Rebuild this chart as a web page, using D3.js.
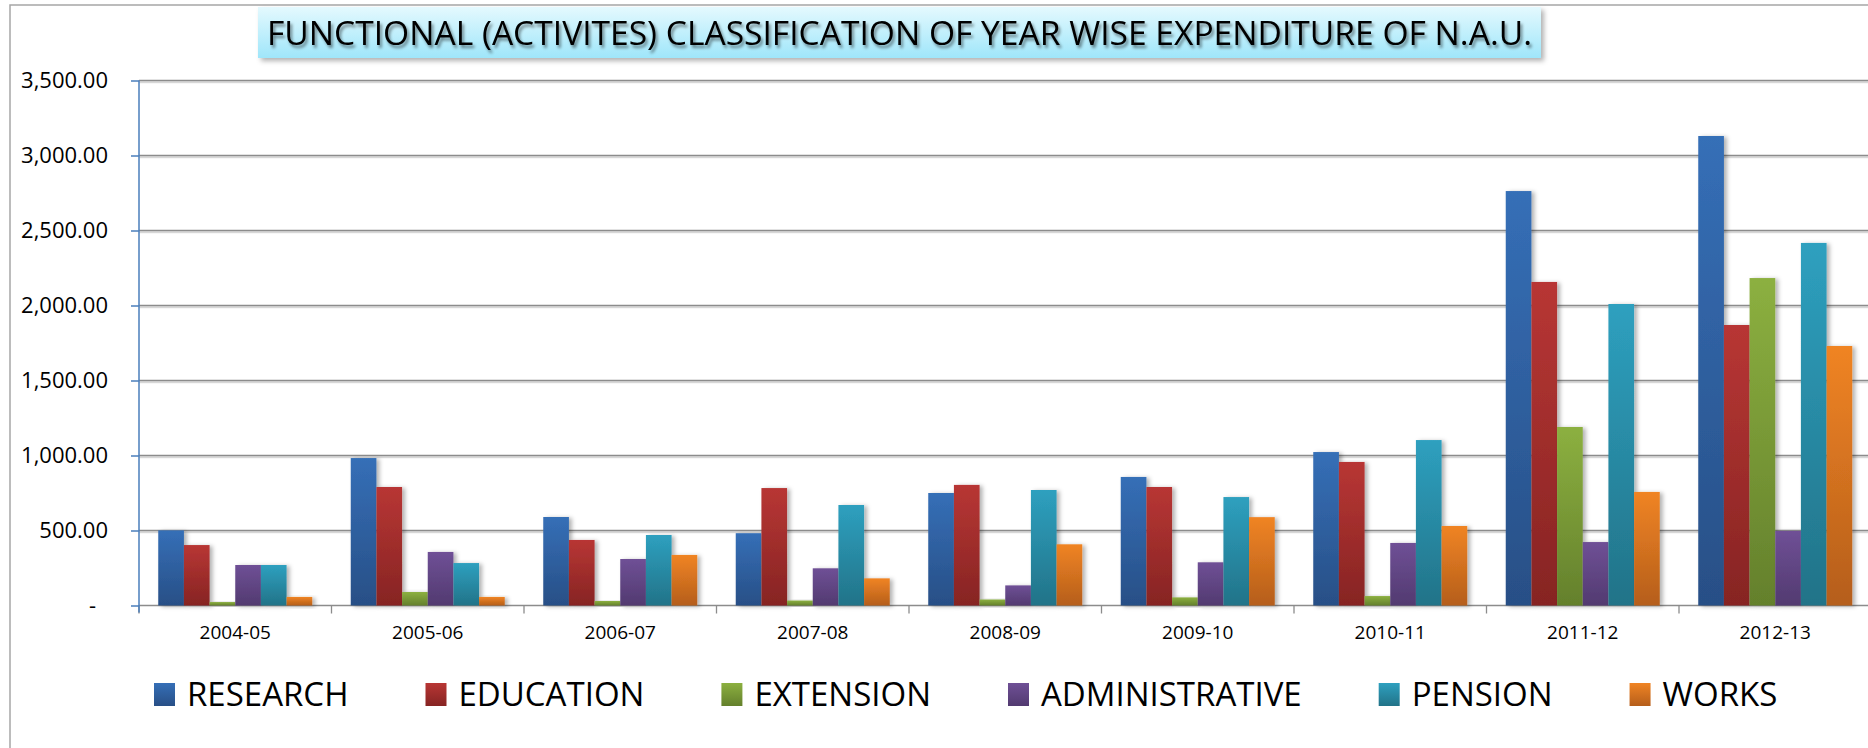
<!DOCTYPE html>
<html>
<head>
<meta charset="utf-8">
<script src="https://cdn.jsdelivr.net/npm/d3@7"></script>
<style>
  body { margin: 0; background: #fff; }
  text { font-family: "Open Sans", "Noto Sans", sans-serif; }
</style>
</head>
<body>
<div id="vis"></div>
<script>
// data
const CATEGORIES = ["2004-05", "2005-06", "2006-07", "2007-08", "2008-09", "2009-10", "2010-11", "2011-12", "2012-13"];
const RESEARCH = [501, 983, 590, 482, 750, 857, 1023, 2763, 3130];
const EDUCATION = [403, 790, 437, 783, 804, 790, 957, 2157, 1870];
const EXTENSION = [23, 90, 30, 33, 40, 54, 63, 1190, 2183];
const ADMINISTRATIVE = [270, 357, 310, 248, 134, 288, 417, 423, 497];
const PENSION = [270, 283, 470, 670, 770, 723, 1103, 2010, 2417];
const WORKS = [57, 57, 337, 181, 408, 589, 530, 757, 1730];
const SERIES_NAMES = ["RESEARCH", "EDUCATION", "EXTENSION", "ADMINISTRATIVE", "PENSION", "WORKS"];
const Y_TICKS = [0, 500, 1000, 1500, 2000, 2500, 3000, 3500];
const TITLE = "FUNCTIONAL (ACTIVITES) CLASSIFICATION OF YEAR WISE EXPENDITURE OF N.A.U.";

const SERIES_VALUES = [RESEARCH, EDUCATION, EXTENSION, ADMINISTRATIVE, PENSION, WORKS];
// top / bottom gradient colours per series
const COLORS = [
  ["#356fb7", "#284f86"],
  ["#b83634", "#862423"],
  ["#8cb040", "#64802c"],
  ["#6f5096", "#523a70"],
  ["#2ea0bf", "#227388"],
  ["#f08424", "#b55e1b"]
];

// frame
const FRAME_WIDTH = 1868;
const FRAME_HEIGHT = 748;
const PLOT = {left: 139, top: 80.5, bottom: 605.5, step: 192.5};

const FRAME = d3.select("#vis")
  .append("svg")
    .attr("width", FRAME_WIDTH)
    .attr("height", FRAME_HEIGHT)
    .style("display", "block");

const defs = FRAME.append("defs");

COLORS.forEach((c, i) => {
  const g = defs.append("linearGradient")
      .attr("id", "grad" + i)
      .attr("x1", 0).attr("y1", 0).attr("x2", 0).attr("y2", 1);
  g.append("stop").attr("offset", "0%").attr("stop-color", c[0]);
  g.append("stop").attr("offset", "100%").attr("stop-color", c[1]);
});

const titleGrad = defs.append("linearGradient")
    .attr("id", "titleGrad")
    .attr("x1", 0).attr("y1", 0).attr("x2", 0).attr("y2", 1);
titleGrad.append("stop").attr("offset", "0%").attr("stop-color", "#e4f9fe");
titleGrad.append("stop").attr("offset", "100%").attr("stop-color", "#9fe6fa");

function shadow(id, dx, dy, sd, op) {
  defs.append("filter")
      .attr("id", id)
      .attr("x", "-20%").attr("y", "-20%")
      .attr("width", "150%").attr("height", "150%")
    .append("feDropShadow")
      .attr("dx", dx).attr("dy", dy)
      .attr("stdDeviation", sd)
      .attr("flood-color", "#000")
      .attr("flood-opacity", op);
}
shadow("barShadow", 3, 1, 2, 0.3);
shadow("boxShadow", 3, 3, 2.5, 0.3);
shadow("textShadow", 2, 3, 1.5, 0.45);
shadow("lineShadow", 0, 1.5, 0.6, 0.25);

// chart border
FRAME.append("path")
    .attr("d", "M10," + FRAME_HEIGHT + " L10,5 L" + FRAME_WIDTH + ",5")
    .attr("fill", "none")
    .attr("stroke", "#a6a6a6")
    .attr("stroke-width", 1.5);

// scales
const X = d3.scaleBand()
    .domain(CATEGORIES)
    .range([PLOT.left, PLOT.left + PLOT.step * CATEGORIES.length]);

const XS = d3.scaleBand()
    .domain(SERIES_NAMES)
    .range([0, X.bandwidth()])
    .paddingInner(0)
    .paddingOuter(0.75);

const Y = d3.scaleLinear()
    .domain([0, 3500])
    .range([PLOT.bottom, PLOT.top]);

// gridlines
FRAME.append("g")
    .attr("filter", "url(#lineShadow)")
  .selectAll("line")
  .data(Y_TICKS.slice(1))
  .enter()
  .append("line")
    .attr("x1", PLOT.left)
    .attr("x2", FRAME_WIDTH)
    .attr("y1", (d) => Y(d))
    .attr("y2", (d) => Y(d))
    .attr("stroke", "#8c8c8c")
    .attr("stroke-width", 1.6);

// x axis line
FRAME.append("line")
    .attr("x1", PLOT.left)
    .attr("x2", FRAME_WIDTH)
    .attr("y1", Y(0))
    .attr("y2", Y(0))
    .attr("stroke", "#8c8c8c")
    .attr("stroke-width", 1.6);

// category boundary ticks
FRAME.append("g")
  .selectAll("line")
  .data(CATEGORIES)
  .enter()
  .append("line")
    .attr("x1", (d) => X(d))
    .attr("x2", (d) => X(d))
    .attr("y1", Y(0))
    .attr("y2", Y(0) + 8)
    .attr("stroke", "#8c8c8c")
    .attr("stroke-width", 1.3);

// bars
const groups = FRAME.append("g")
  .selectAll("g")
  .data(CATEGORIES)
  .enter()
  .append("g")
    .attr("transform", (d) => "translate(" + X(d) + ",0)");

groups.selectAll("rect")
  .data((d, i) => SERIES_NAMES.map((s, j) => ({series: s, idx: j, value: SERIES_VALUES[j][i]})))
  .enter()
  .append("rect")
    .attr("x", (d) => XS(d.series))
    .attr("y", (d) => Y(d.value))
    .attr("width", XS.bandwidth())
    .attr("height", (d) => Y(0) - Y(d.value))
    .attr("fill", (d) => "url(#grad" + d.idx + ")")
    .attr("filter", "url(#barShadow)");

// y axis
const yAxis = FRAME.append("g")
    .attr("transform", "translate(" + PLOT.left + ",0)")
    .call(d3.axisLeft(Y)
      .tickValues(Y_TICKS)
      .tickSize(8)
      .tickPadding(23)
      .tickFormat((d) => d === 0 ? "-" : d3.format(",.2f")(d)));
yAxis.select(".domain")
    .attr("d", "M0," + (Y(0) + 7) + "V" + Y(3500))
    .attr("stroke", "#4a7ebb")
    .attr("stroke-width", 1.5);
yAxis.selectAll(".tick line")
    .attr("stroke", "#4a7ebb")
    .attr("stroke-width", 1.5);
yAxis.selectAll(".tick text")
    .attr("font-size", "22px")
    .attr("fill", "#000")
    .attr("dx", (d) => d === 0 ? -12 : 0);

// x labels
const xAxis = FRAME.append("g")
    .attr("transform", "translate(0," + Y(0) + ")")
    .call(d3.axisBottom(X).tickSize(0).tickPadding(20));
xAxis.select(".domain").remove();
xAxis.selectAll(".tick text")
    .attr("font-size", "19px")
    .attr("fill", "#000");

// title
FRAME.append("rect")
    .attr("x", 258)
    .attr("y", 7)
    .attr("width", 1283)
    .attr("height", 51)
    .attr("fill", "url(#titleGrad)")
    .attr("filter", "url(#boxShadow)");

FRAME.append("text")
    .attr("x", 267)
    .attr("y", 45)
    .attr("font-size", "32px")
    .attr("textLength", 1265)
    .attr("lengthAdjust", "spacingAndGlyphs")
    .attr("fill", "#000")
    .attr("filter", "url(#textShadow)")
    .text(TITLE);

// legend
const legend = FRAME.append("g").attr("transform", "translate(154,706)");
let lx = 0;
SERIES_NAMES.forEach((name, i) => {
  const item = legend.append("g").attr("transform", "translate(" + lx + ",0)");
  item.append("rect")
      .attr("x", 0)
      .attr("y", -23)
      .attr("width", 21)
      .attr("height", 23)
      .attr("fill", "url(#grad" + i + ")");
  const t = item.append("text")
      .attr("x", 33)
      .attr("y", 0)
      .attr("font-size", "33px")
      .attr("fill", "#000")
      .text(name);
  lx += 33 + t.node().getComputedTextLength() + 77;
});
</script>
</body>
</html>
